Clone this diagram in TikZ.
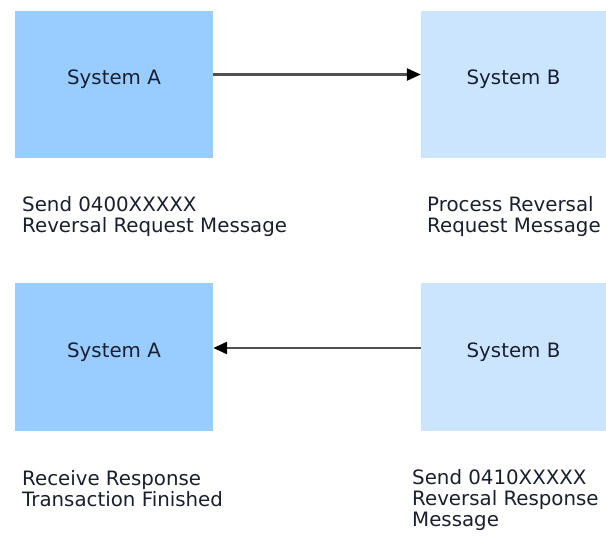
\documentclass[tikz,border=0pt]{standalone}
\usepackage{fontspec}
\setmainfont{DejaVu Sans}
\usetikzlibrary{arrows.meta}
\definecolor{sysa}{HTML}{99CCFF}
\definecolor{sysb}{HTML}{CCE5FF}
\definecolor{ink}{HTML}{1A1F30}
\definecolor{wire}{HTML}{505050}
\begin{document}
\begin{tikzpicture}[x=1pt,y=-1pt,
  font=\fontsize{19.8}{21}\selectfont,
  sysbox/.style={rectangle, inner sep=0pt, text height=7pt, text depth=7pt, text=ink},
  desc/.style={anchor=base west, align=left, inner sep=0pt, text=ink},
  flow/.style={draw=wire, line width=2.6pt, -{Triangle[length=14pt,width=12pt,color=black]}}]
\useasboundingbox (0,0) rectangle (606,543);
% the four systems
\node[sysbox, fill=sysa, minimum width=198pt, minimum height=147pt] (a1) at (114,84.5) {System A};
\node[sysbox, fill=sysb, minimum width=185pt, minimum height=147pt] (b1) at (513.5,84.5) {System B};
\node[sysbox, fill=sysa, minimum width=198pt, minimum height=148pt] (a2) at (114,357) {System A};
\node[sysbox, fill=sysb, minimum width=185pt, minimum height=148pt] (b2) at (513.5,357) {System B};
% request and response messages
\draw[flow] ([yshift=10pt]a1.east) -- ([yshift=10pt]b1.west);
\draw[flow] ([yshift=9pt]b2.west) -- ([yshift=9pt]a2.east);
% step descriptions (base anchor sits on the last line)
\node[desc] (d1) at (22,233) {Send 0400XXXXX\\Reversal Request Message};
\node[desc] (d2) at (427,233) {Process Reversal\\Request Message};
\node[desc] (d3) at (22,506) {Receive Response\\Transaction Finished};
\node[desc] (d4) at (412,526) {Send 0410XXXXX\\Reversal Response\\Message};
\end{tikzpicture}
\end{document}
